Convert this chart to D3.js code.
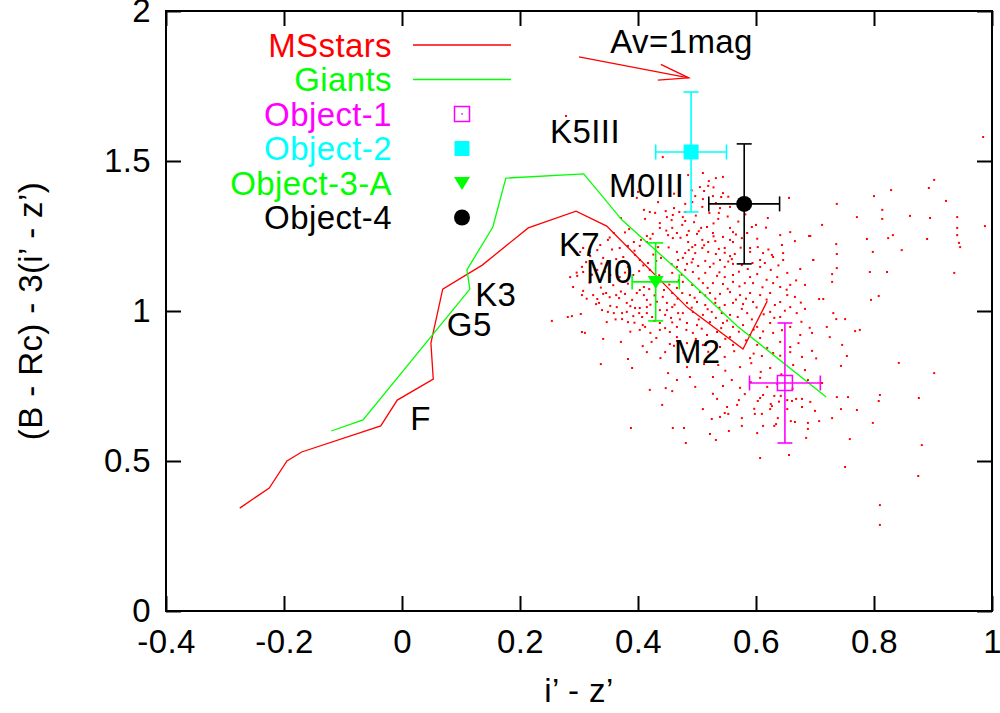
<!DOCTYPE html>
<html>
<head>
<meta charset="utf-8">
<script src="https://cdn.jsdelivr.net/npm/d3@7"></script>
<style>
  body { margin: 0; background: #fff; }
  svg { display: block; font-family: 'Liberation Sans', Arial, sans-serif; }
  text { letter-spacing: 0.4px; }
</style>
</head>
<body>
<svg id="chart"></svg>
<script>
// tick values and labels
const xTicks = [-0.4, -0.2, 0, 0.2, 0.4, 0.6, 0.8, 1]
const xTickLabels = ['-0.4', '-0.2', '0', '0.2', '0.4', '0.6', '0.8', '1']
const yTicks = [0, 0.5, 1, 1.5, 2]
const yTickLabels = ['0', '0.5', '1', '1.5', '2']

// main-sequence and giant tracks
const msX = [-0.275, -0.225, -0.195, -0.17, -0.036, -0.008, 0.053, 0.049, 0.069, 0.136, 0.214, 0.295, 0.347, 0.483, 0.578, 0.619]
const msY = [0.343, 0.41, 0.5, 0.53, 0.617, 0.703, 0.773, 0.893, 1.073, 1.153, 1.277, 1.333, 1.283, 1.013, 0.873, 1.033]
const giantX = [-0.12, -0.066, 0.115, 0.11, 0.154, 0.176, 0.308, 0.373, 0.471, 0.568, 0.719]
const giantY = [0.6, 0.637, 1.073, 1.137, 1.28, 1.443, 1.457, 1.303, 1.13, 0.95, 0.713]

// objects with error bars
const objNames = ['Object-1', 'Object-2', 'Object-3-A', 'Object-4']
const objX = [0.649, 0.49, 0.43, 0.58]
const objY = [0.76, 1.53, 1.097, 1.357]
const objXErr = [0.06, 0.06, 0.04, 0.06]
const objYErr = [0.2, 0.2, 0.13, 0.2]
const objColors = ['#ff00ff', '#00ffff', '#00ff00', '#000000']
const objShapes = ['openSquare', 'square', 'triangleDown', 'circle']

// spectral type labels
const labelText = ['K5III', 'M0III', 'K7', 'M0', 'M2', 'K3', 'G5', 'F']
const labelX = [0.251, 0.351, 0.266, 0.312, 0.461, 0.124, 0.076, 0.014]
const labelY = [1.56, 1.38, 1.183, 1.093, 0.827, 1.017, 0.917, 0.603]

// reddening vector
const arrowFrom = [0.30, 1.847]
const arrowTo = [0.486, 1.777]

// field stars
const fieldStars = [
  [0.278,1.65],[0.442,1.513],
  [0.434,1.363],[0.42,1.33],[0.429,1.327],[0.447,1.333],[0.461,1.343],[0.459,1.32],[0.449,1.313],[0.41,1.337],[0.4,1.397],[0.398,1.377],
  [0.412,1.307],[0.437,1.293],[0.371,1.31],[0.437,1.277],[0.458,1.277],[0.425,1.257],[0.415,1.25],[0.451,1.253],[0.466,1.26],[0.405,1.237],
  [0.415,1.23],[0.393,1.23],[0.385,1.273],[0.359,1.26],[0.403,1.217],[0.383,1.217],[0.434,1.213],[0.459,1.243],[0.466,1.197],[0.439,1.177],
  [0.468,1.17],[0.369,1.21],[0.349,1.237],[0.336,1.22],[0.331,1.203],[0.307,1.21],[0.302,1.197],[0.319,1.183],[0.341,1.177],[0.363,1.173],
  [0.375,1.18],[0.395,1.187],[0.403,1.17],[0.305,1.147],[0.331,1.137],[0.307,1.13],[0.347,1.153],[0.364,1.137],[0.383,1.147],[0.417,1.16],
  [0.42,1.137],[0.458,1.127],[0.466,1.147],[0.285,1.113],[0.297,1.117],[0.353,1.12],[0.392,1.12],[0.369,1.113],
  [0.29,1.08],[0.307,1.067],[0.305,1.053],[0.324,1.053],[0.341,1.057],[0.346,1.06],[0.331,1.04],[0.334,1.027],[0.329,1.023],[0.353,1.017],
  [0.364,1.013],[0.368,1.043],[0.363,1.053],[0.378,1.057],[0.381,1.027],[0.39,1.037],[0.395,1.01],[0.381,0.997],[0.373,0.993],[0.359,0.993],
  [0.349,0.997],[0.303,0.99],[0.288,0.983],[0.281,0.98],[0.254,0.967],[0.347,0.963],[0.373,0.973],[0.383,0.963],[0.392,0.983],[0.402,0.993],
  [0.407,0.98],[0.415,0.993],[0.424,0.98],[0.403,1.07],[0.41,1.053],[0.415,1.037],[0.398,1.06],[0.41,1.08],[0.419,1.073],[0.415,1.013],
  [0.403,1.01],[0.305,0.93],[0.31,0.927],[0.341,0.907],[0.371,0.897],[0.403,0.937],[0.408,0.953],[0.412,0.947],[0.431,0.91],[0.437,0.96],
  [0.446,0.943],[0.437,0.937],[0.454,0.93],[0.466,0.947],[0.466,0.913],[0.446,0.987],[0.456,0.977],[0.468,0.993],[0.449,1.003],[0.458,1.013],
  [0.449,1.027],[0.442,1.047],[0.458,1.06],[0.444,1.07],[0.466,1.077],[0.408,0.883],[0.415,0.863],[0.446,0.863],[0.454,0.89],[0.466,0.9],
  [0.383,0.84],[0.39,0.81],[0.337,0.823],[0.451,0.793],[0.466,0.77],[0.447,0.743],
  [0.51,1.46],[0.485,1.453],[0.532,1.443],[0.544,1.447],[0.52,1.433],[0.519,1.417],[0.505,1.413],[0.512,1.4],[0.544,1.393],[0.497,1.383],
  [0.527,1.383],[0.541,1.38],[0.51,1.373],[0.492,1.363],[0.48,1.357],[0.532,1.36],[0.556,1.347],[0.509,1.347],[0.539,1.343],[0.48,1.33],
  [0.537,1.327],[0.476,1.313],[0.536,1.307],[0.48,1.3],[0.517,1.28],[0.475,1.287],[0.486,1.267],[0.507,1.277],[0.556,1.277],[0.483,1.253],
  [0.5,1.257],[0.527,1.26],[0.544,1.247],[0.561,1.263],[0.593,1.28],[0.585,1.26],[0.6,1.287],[0.62,1.31],[0.656,1.377],[0.485,1.23],
  [0.509,1.237],[0.519,1.23],[0.531,1.233],[0.556,1.237],[0.576,1.243],[0.561,1.23],[0.497,1.22],[0.492,1.213],[0.509,1.21],[0.537,1.207],
  [0.547,1.21],[0.59,1.21],[0.603,1.213],[0.48,1.193],[0.497,1.193],[0.519,1.197],[0.532,1.19],[0.556,1.183],[0.564,1.19],[0.59,1.197],
  [0.612,1.193],[0.627,1.187],[0.644,1.22],[0.658,1.263],[0.666,1.233],[0.692,1.25],[0.476,1.177],[0.493,1.173],[0.514,1.167],[0.539,1.17],
  [0.559,1.173],[0.607,1.17],[0.629,1.18],[0.646,1.193],[0.646,1.17],[0.483,1.157],[0.502,1.15],[0.522,1.147],[0.547,1.147],[0.561,1.157],
  [0.576,1.153],[0.586,1.14],[0.607,1.147],[0.615,1.16],[0.625,1.137],[0.675,1.14],[0.697,1.17],[0.48,1.137],[0.493,1.13],[0.514,1.127],
  [0.534,1.117],[0.547,1.113],[0.561,1.12],[0.59,1.113],[0.636,1.113],[0.653,1.127],
  [0.476,1.097],[0.492,1.087],[0.51,1.093],[0.527,1.093],[0.544,1.09],[0.561,1.097],[0.581,1.093],[0.595,1.093],[0.629,1.093],[0.641,1.08],
  [0.658,1.087],[0.683,1.087],[0.475,1.06],[0.488,1.053],[0.505,1.063],[0.522,1.06],[0.539,1.057],[0.556,1.063],[0.573,1.053],[0.59,1.06],
  [0.607,1.053],[0.624,1.06],[0.653,1.053],[0.666,1.047],[0.483,1.027],[0.5,1.03],[0.514,1.02],[0.531,1.027],[0.547,1.02],[0.561,1.027],
  [0.578,1.023],[0.595,1.03],[0.632,1.02],[0.641,1.03],[0.658,1.013],[0.476,0.993],[0.493,0.997],[0.51,0.987],[0.525,0.997],[0.542,0.993],
  [0.556,0.987],[0.569,0.98],[0.585,0.993],[0.624,0.997],[0.641,0.98],[0.669,0.993],[0.483,0.96],[0.5,0.953],[0.522,0.963],[0.544,0.96],
  [0.561,0.947],[0.578,0.953],[0.602,0.947],[0.624,0.96],[0.658,0.947],[0.493,0.927],[0.517,0.92],[0.534,0.93],[0.556,0.913],[0.59,0.92],
  [0.607,0.91],[0.629,0.927],[0.675,0.92],[0.695,0.927],[0.483,0.893],[0.51,0.887],[0.539,0.88],[0.561,0.887],[0.602,0.887],[0.619,0.877],
  [0.658,0.88],[0.695,0.867],[0.5,0.853],[0.547,0.847],[0.59,0.843],[0.61,0.85],[0.629,0.86],[0.678,0.847],[0.483,0.813],[0.536,0.82],
  [0.573,0.813],[0.624,0.81],[0.663,0.82],[0.488,0.78],[0.527,0.78],[0.559,0.77],[0.607,0.777],[0.688,0.77],[0.497,0.747],[0.544,0.75],
  [0.619,0.747],
  [0.534,0.707],[0.581,0.723],[0.612,0.72],[0.607,0.71],[0.571,0.703],[0.603,0.7],[0.631,0.717],[0.642,0.717],[0.653,0.703],[0.661,0.7],
  [0.668,0.707],[0.678,0.707],[0.692,0.697],[0.551,0.68],[0.51,0.673],[0.625,0.69],[0.627,0.683],[0.624,0.673],[0.653,0.673],[0.678,0.68],
  [0.7,0.667],[0.547,0.66],[0.553,0.657],[0.598,0.657],[0.61,0.657],[0.539,0.647],[0.525,0.64],[0.576,0.643],[0.637,0.643],[0.659,0.633],
  [0.666,0.63],[0.634,0.623],[0.612,0.617],[0.576,0.617],[0.631,0.617],[0.688,0.627],[0.707,0.633],[0.478,0.61],[0.688,0.607],[0.554,0.6],
  [0.602,0.593],[0.522,0.59],[0.532,0.57],[0.685,0.577],[0.481,0.56],[0.656,0.52],[0.607,0.51],
  [0.42,0.737],[0.458,0.733],[0.441,0.687],[0.388,0.61],[0.459,0.61],
  [0.985,1.58],[0.902,1.437],[0.893,1.41],[0.829,1.403],[0.8,1.383],[0.922,1.367],[0.737,1.357],[0.814,1.337],[0.861,1.317],[0.771,1.313],
  [0.814,1.307],[0.941,1.313],[0.895,1.31],[0.988,1.283],[0.941,1.277],[0.712,1.287],[0.832,1.253],[0.941,1.253],[0.89,1.24],[0.824,1.243],
  [0.69,1.25],[0.788,1.24],[0.944,1.227],[0.946,1.213],[0.736,1.223],[0.798,1.197],[0.847,1.203],[0.697,1.17],[0.737,1.19],[0.793,1.13],
  [0.822,1.13],[0.936,1.127],[0.729,1.123],[0.737,1.143],[0.729,1.097],[0.808,1.05],[0.795,1.037],[0.714,1.04],[0.707,1.04],[0.731,0.993],
  [0.751,0.973],[0.736,0.973],[0.776,0.937],[0.768,0.933],[0.72,0.947],[0.725,0.913],[0.746,0.887],[0.754,0.85],[0.744,0.817],[0.842,0.827],
  [0.902,0.793],[0.712,0.76],[0.737,0.713],[0.756,0.713],[0.81,0.72],[0.876,0.71],[0.808,0.7],[0.771,0.67],[0.744,0.673],[0.729,0.643],
  [0.798,0.627],[0.759,0.573],[0.881,0.553],[0.751,0.48],[0.875,0.45],[0.81,0.353],[0.81,0.287],
  // denser core, estimated from the overview
  [0.352,1.245],[0.378,1.262],[0.421,1.241],[0.448,1.268],[0.472,1.244],[0.503,1.266],[0.528,1.249],[0.566,1.255],[0.602,1.241],
  [0.318,1.196],[0.356,1.205],[0.394,1.201],[0.426,1.188],[0.452,1.212],[0.486,1.203],[0.512,1.219],[0.547,1.194],[0.574,1.211],[0.621,1.205],
  [0.312,1.163],[0.338,1.158],[0.372,1.164],[0.409,1.152],[0.431,1.167],[0.457,1.156],[0.491,1.162],[0.528,1.158],[0.553,1.165],[0.594,1.16],[0.638,1.152],
  [0.296,1.128],[0.322,1.121],[0.344,1.131],[0.378,1.128],[0.402,1.133],[0.436,1.119],[0.474,1.121],[0.503,1.108],[0.538,1.129],[0.571,1.131],[0.602,1.123],[0.618,1.104],
  [0.318,1.094],[0.337,1.078],[0.358,1.086],[0.383,1.091],[0.427,1.094],[0.453,1.088],[0.469,1.102],[0.518,1.077],[0.552,1.074],[0.572,1.082],[0.611,1.079],[0.652,1.071],[0.668,1.102],
  [0.313,1.041],[0.352,1.046],[0.371,1.065],[0.428,1.052],[0.432,1.031],[0.467,1.041],[0.496,1.044],[0.514,1.052],[0.531,1.041],[0.566,1.038],[0.583,1.041],[0.618,1.038],[0.676,1.028],
  [0.339,1.003],[0.387,1.016],[0.421,1.021],[0.437,1.003],[0.462,1.021],[0.491,1.011],[0.518,1.006],[0.538,1.011],[0.576,1.007],[0.601,1.012],[0.613,0.989],[0.649,1.001],[0.683,1.007],
  [0.362,0.972],[0.394,0.961],[0.428,0.967],[0.458,0.962],[0.471,0.972],[0.503,0.972],[0.532,0.977],[0.551,0.968],[0.593,0.972],[0.631,0.977],[0.677,0.964],
  [0.387,0.931],[0.421,0.927],[0.482,0.937],[0.508,0.941],[0.541,0.943],[0.571,0.931],[0.596,0.938],[0.612,0.932],[0.644,0.936],[0.691,0.944],
  [0.423,0.897],[0.461,0.884],[0.498,0.907],[0.527,0.898],[0.548,0.907],[0.583,0.902],[0.641,0.897],[0.672,0.893],
  [0.438,0.843],[0.477,0.861],[0.519,0.864],[0.563,0.866],[0.596,0.858],[0.641,0.851],[0.658,0.863],[0.702,0.842],
  [0.512,0.823],[0.548,0.801],[0.592,0.826],[0.608,0.797],[0.643,0.789],[0.683,0.803],
  [0.461,1.391],[0.491,1.402],[0.528,1.412],[0.553,1.381],[0.47,1.33],[0.498,1.318],[0.521,1.327],[0.552,1.315],[0.582,1.322],
  [0.457,1.303],[0.495,1.296],[0.528,1.292],[0.57,1.298],[0.617,1.278],[0.641,1.253],
  [0.573,0.744],[0.591,0.763],[0.636,0.757],[0.662,0.741],[0.527,0.724],[0.568,0.687],[0.597,0.674],[0.639,0.698]
]

const width = 1000
const height = 713
const margin = { top: 11, right: 8, bottom: 102, left: 166 }
const fontSize = 33

const svg = d3.select('#chart').attr('width', width).attr('height', height)

const x = d3.scaleLinear().domain([-0.4, 1]).range([margin.left, width - margin.right])
const y = d3.scaleLinear().domain([0, 2]).range([height - margin.bottom, margin.top])
const x0 = margin.left
const x1 = width - margin.right
const y0 = height - margin.bottom
const y1 = margin.top
const tickLen = 15

// axes, ticks pointing inwards on all four sides
const styleAxis = (g) => {
  g.select('.domain').remove()
  g.selectAll('.tick line').attr('stroke', '#000').attr('stroke-width', 2)
  g.selectAll('.tick text').attr('fill', '#000').style('font-size', fontSize + 'px').attr('font-family', 'Liberation Sans, Arial, sans-serif')
}

svg.append('g')
  .attr('transform', `translate(0,${y0})`)
  .call(d3.axisBottom(x).tickValues(xTicks).tickSizeInner(-tickLen).tickSizeOuter(0).tickPadding(19)
    .tickFormat((d, i) => xTickLabels[i]))
  .call(styleAxis)
svg.append('g')
  .attr('transform', `translate(0,${y1})`)
  .call(d3.axisTop(x).tickValues(xTicks).tickSizeInner(-tickLen).tickSizeOuter(0).tickFormat(''))
  .call(styleAxis)
svg.append('g')
  .attr('transform', `translate(${x0},0)`)
  .call(d3.axisLeft(y).tickValues(yTicks).tickSizeInner(-tickLen).tickSizeOuter(0).tickPadding(15)
    .tickFormat((d, i) => yTickLabels[i]))
  .call(styleAxis)
svg.append('g')
  .attr('transform', `translate(${x1},0)`)
  .call(d3.axisRight(y).tickValues(yTicks).tickSizeInner(-tickLen).tickSizeOuter(0).tickFormat(''))
  .call(styleAxis)

svg.append('rect')
  .attr('x', x0).attr('y', y1).attr('width', x1 - x0).attr('height', y0 - y1)
  .attr('fill', 'none').attr('stroke', '#000').attr('stroke-width', 2)

// axis titles
svg.append('text')
  .attr('x', (x0 + x1) / 2).attr('y', 702)
  .attr('text-anchor', 'middle').style('font-size', fontSize + 'px')
  .text('i\u2019 - z\u2019')
svg.append('text')
  .attr('transform', `translate(42,${(y0 + y1) / 2}) rotate(-90)`)
  .attr('text-anchor', 'middle').style('font-size', fontSize + 'px')
  .text('(B - Rc) - 3(i\u2019 - z\u2019)')

const plot = svg.append('g')

// field stars
plot.append('g')
  .selectAll('rect')
  .data(fieldStars)
  .join('rect')
  .attr('x', (d) => x(d[0]) - 1)
  .attr('y', (d) => y(d[1]) - 1)
  .attr('width', 2)
  .attr('height', 2)
  .attr('fill', '#ff0000')

// tracks
const line = d3.line()
const msPts = msX.map((v, i) => [x(v), y(msY[i])])
const giantPts = giantX.map((v, i) => [x(v), y(giantY[i])])
plot.append('path').attr('d', line(msPts)).attr('fill', 'none').attr('stroke', '#ff0000').attr('stroke-width', 1.3)
plot.append('path').attr('d', line(giantPts)).attr('fill', 'none').attr('stroke', '#00ff00').attr('stroke-width', 1.3)

// reddening arrow
const ax0 = x(arrowFrom[0]), ay0 = y(arrowFrom[1])
const ax1 = x(arrowTo[0]), ay1 = y(arrowTo[1])
const ang = Math.atan2(ay1 - ay0, ax1 - ax0)
const headLen = 31
const headAng = 15 * Math.PI / 180
const arrow = plot.append('g').attr('stroke', '#ff0000').attr('stroke-width', 1.3).attr('fill', 'none')
arrow.append('line').attr('x1', ax0).attr('y1', ay0).attr('x2', ax1).attr('y2', ay1)
arrow.append('path').attr('d', line([
  [ax1 - headLen * Math.cos(ang - headAng), ay1 - headLen * Math.sin(ang - headAng)],
  [ax1, ay1],
  [ax1 - headLen * Math.cos(ang + headAng), ay1 - headLen * Math.sin(ang + headAng)]
]))
plot.append('text')
  .attr('x', x(0.353)).attr('y', y(1.86))
  .style('font-size', fontSize + 'px')
  .text('Av=1mag')

// spectral type labels
plot.append('g')
  .selectAll('text')
  .data(labelText)
  .join('text')
  .attr('x', (d, i) => x(labelX[i]))
  .attr('y', (d, i) => y(labelY[i]))
  .style('font-size', fontSize + 'px')
  .text((d) => d)

function drawMarker(g, shape, cx, cy, color) {
  const s = 15
  if (shape === 'openSquare') {
    g.append('rect').attr('x', cx - s / 2).attr('y', cy - s / 2).attr('width', s).attr('height', s)
      .attr('fill', 'none').attr('stroke', color).attr('stroke-width', 1.5)
    g.append('rect').attr('x', cx - 0.75).attr('y', cy - 0.75).attr('width', 1.5).attr('height', 1.5).attr('fill', color)
  } else if (shape === 'square') {
    g.append('rect').attr('x', cx - s / 2).attr('y', cy - s / 2).attr('width', s).attr('height', s).attr('fill', color)
  } else if (shape === 'triangleDown') {
    g.append('path').attr('d', line([[cx - 8, cy - 6], [cx + 8, cy - 6], [cx, cy + 7]]) + 'Z').attr('fill', color)
  } else {
    g.append('circle').attr('cx', cx).attr('cy', cy).attr('r', 8).attr('fill', color)
  }
}

// objects with error bars
const cap = 7.5
objNames.forEach((name, i) => {
  const g = plot.append('g').attr('stroke-width', 1.6)
  const cx = x(objX[i]), cy = y(objY[i])
  const xl = x(objX[i] - objXErr[i]), xr = x(objX[i] + objXErr[i])
  const yt = y(objY[i] + objYErr[i]), yb = y(objY[i] - objYErr[i])
  const bars = g.append('g').attr('stroke', objColors[i])
  bars.append('line').attr('x1', xl).attr('x2', xr).attr('y1', cy).attr('y2', cy)
  bars.append('line').attr('x1', cx).attr('x2', cx).attr('y1', yt).attr('y2', yb)
  bars.append('line').attr('x1', xl).attr('x2', xl).attr('y1', cy - cap).attr('y2', cy + cap)
  bars.append('line').attr('x1', xr).attr('x2', xr).attr('y1', cy - cap).attr('y2', cy + cap)
  bars.append('line').attr('x1', cx - cap).attr('x2', cx + cap).attr('y1', yt).attr('y2', yt)
  bars.append('line').attr('x1', cx - cap).attr('x2', cx + cap).attr('y1', yb).attr('y2', yb)
  drawMarker(g, objShapes[i], cx, cy, objColors[i])
})

// legend
const legend = svg.append('g')
const legendNames = ['MSstars', 'Giants'].concat(objNames)
const legendColors = ['#ff0000', '#00ff00'].concat(objColors)
const rowY = (i) => 45 + i * 34.5
legendNames.forEach((name, i) => {
  legend.append('text')
    .attr('x', 392).attr('y', rowY(i)).attr('dy', '0.35em')
    .attr('text-anchor', 'end').attr('fill', legendColors[i])
    .style('font-size', fontSize + 'px')
    .text(name)
  if (i < 2) {
    legend.append('line').attr('x1', 413).attr('x2', 511).attr('y1', rowY(i)).attr('y2', rowY(i))
      .attr('stroke', legendColors[i]).attr('stroke-width', 1.3)
  } else {
    drawMarker(legend, objShapes[i - 2], 462, rowY(i), legendColors[i])
  }
})
</script>
</body>
</html>
